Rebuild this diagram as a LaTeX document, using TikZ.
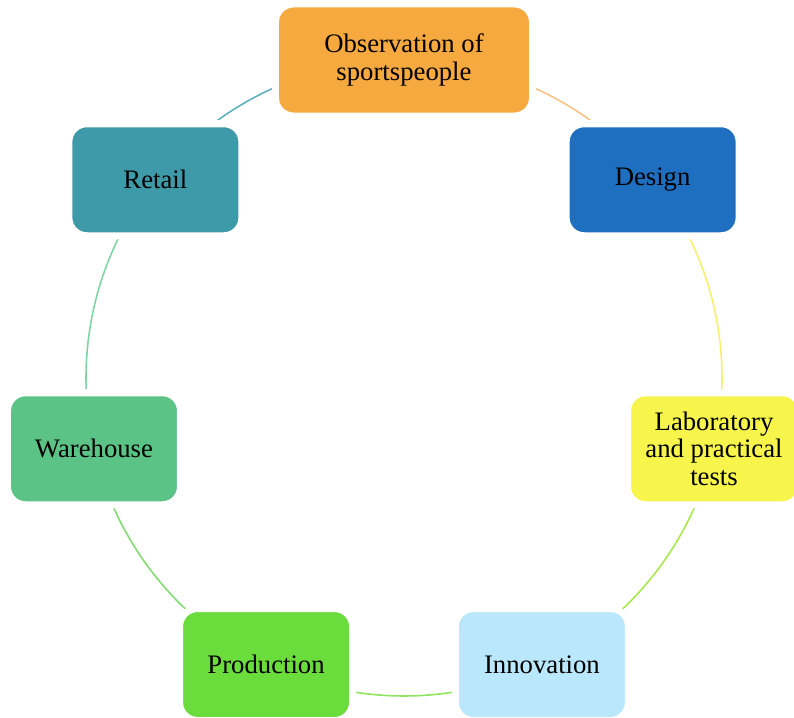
\documentclass[tikz,border=0pt]{standalone}
\usepackage{fontspec}
\setmainfont{Liberation Serif}
\usetikzlibrary{calc,backgrounds}

\definecolor{obsorange}{HTML}{F5A93F}
\definecolor{designblue}{HTML}{1E6FC0}
\definecolor{labyellow}{HTML}{F7F54B}
\definecolor{innovblue}{HTML}{B9E7FB}
\definecolor{prodgreen}{HTML}{6ADC3B}
\definecolor{storegreen}{HTML}{5BC385}
\definecolor{retailteal}{HTML}{3E99A8}
% lighter tints for the ring
\definecolor{arcorange}{HTML}{F6C384}
\definecolor{arcyellow}{HTML}{F6F06C}
\definecolor{arclime}{HTML}{A8E84C}
\definecolor{arcgreen}{HTML}{8FE560}
\definecolor{arcleaf}{HTML}{80DD70}
\definecolor{arcmint}{HTML}{80D4A4}
\definecolor{arcteal}{HTML}{5FB0BD}

\newcommand{\ringrad}{6.36cm}

\begin{document}
\begin{tikzpicture}[
  stage/.style={draw=white, line width=0.14cm, rounded corners=0.36cm,
    minimum width=3.46cm, minimum height=2.24cm, align=center,
    font=\fontsize{15.2}{15.6}\selectfont},
  link/.style={line width=0.9pt},
  ring/.style={to path={
    let \p1=($(\tikztostart)-(hub)$), \p2=($(\tikztotarget)-(hub)$),
        \n1={atan2(\y1,\x1)}, \n2={atan2(\y2,\x2)},
        \n3={\n2-360*(\n2>\n1)} in
    ($(hub)+(\n1:\ringrad)$) arc[start angle=\n1, end angle=\n3, radius=\ringrad]}}]
\useasboundingbox (-8.08,-6.78) rectangle (7.80,7.56);
\coordinate (hub) at (0,0);
% stages round the ring, clockwise from the top
\node[stage, fill=obsorange, minimum width=5.14cm] (obs) at (90:\ringrad) {Observation of\\sportspeople};
\node[stage, fill=designblue] (design) at (38.57:\ringrad) {Design};
\node[stage, fill=labyellow] (lab) at (-12.86:\ringrad) {Laboratory\\and practical\\tests};
\node[stage, fill=innovblue] (innov) at (-64.29:\ringrad) {Innovation};
\node[stage, fill=prodgreen] (prod) at (-115.71:\ringrad) {Production};
\node[stage, fill=storegreen] (store) at (-167.14:\ringrad) {Warehouse};
\node[stage, fill=retailteal] (retail) at (141.43:\ringrad) {Retail};
% arcs between stages, behind the boxes
\begin{scope}[on background layer]
\draw[link, color=arcorange] (obs) to[ring] (design);
\draw[link, color=arcyellow] (design) to[ring] (lab);
\draw[link, color=arclime] (lab) to[ring] (innov);
\draw[link, color=arcgreen] (innov) to[ring] (prod);
\draw[link, color=arcleaf] (prod) to[ring] (store);
\draw[link, color=arcmint] (store) to[ring] (retail);
\draw[link, color=arcteal] (retail) to[ring] (obs);
\end{scope}
\end{tikzpicture}
\end{document}
